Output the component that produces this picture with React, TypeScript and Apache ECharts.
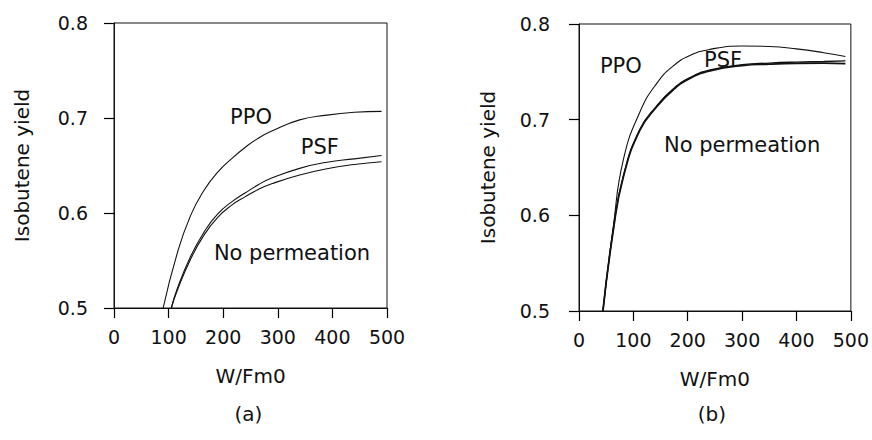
import React, { useEffect, useRef } from "react";
import * as echarts from "echarts";

// Panel (a)
const aPpoX = [90, 115, 140, 165, 190, 215, 240, 265, 290, 340, 390, 440, 490];
const aPpoY = [0.5, 0.556, 0.597, 0.624, 0.643, 0.657, 0.669, 0.679, 0.6865, 0.698, 0.703, 0.706, 0.707];
const aPsfX = [105, 115, 140, 165, 190, 215, 240, 265, 290, 340, 390, 440, 490];
const aPsfY = [0.5, 0.519, 0.554, 0.58, 0.599, 0.6115, 0.621, 0.63, 0.637, 0.647, 0.6535, 0.657, 0.6605];
const aNoX = [105, 115, 140, 165, 190, 215, 240, 265, 290, 340, 390, 440, 490];
const aNoY = [0.5, 0.517, 0.551, 0.577, 0.5955, 0.608, 0.617, 0.625, 0.631, 0.64, 0.6466, 0.651, 0.654];

// Panel (b)
const bX = [44, 63, 81.5, 112, 143, 173, 204, 241, 300, 350, 400, 450, 490];
const bPpoY = [0.5, 0.588, 0.658, 0.708, 0.738, 0.756, 0.767, 0.7735, 0.777, 0.7765, 0.774, 0.77, 0.766];
const bPsfY = [0.5, 0.585, 0.641, 0.69, 0.7145, 0.732, 0.744, 0.752, 0.7575, 0.7592, 0.7602, 0.7608, 0.7615];
const bNoY = [0.5, 0.584, 0.64, 0.689, 0.7135, 0.731, 0.743, 0.751, 0.7565, 0.758, 0.7588, 0.759, 0.7585];

const xTicks = [0, 100, 200, 300, 400, 500];
const yTicks = [0.5, 0.6, 0.7, 0.8];

// annotation labels: [text, x, y]
const aLabels: [string, number, number][] = [
  ["PPO", 251, 0.7015],
  ["PSF", 377, 0.669],
  ["No permeation", 326, 0.558],
];
const bLabels: [string, number, number][] = [
  ["PPO", 77, 0.756],
  ["PSF", 265, 0.762],
  ["No permeation", 300, 0.673],
];

const FONT = "DejaVu Sans";
const INK = "#111";

const zip = (xs: number[], ys: number[]) => xs.map((x, i) => [x, ys[i]]);

function makeAxes(gridIndex: number) {
  const xAxis = {
    type: "value",
    gridIndex,
    min: xTicks[0],
    max: xTicks[xTicks.length - 1],
    interval: 100,
    splitLine: { show: false },
    axisLine: { show: true, onZero: false, lineStyle: { color: INK, width: 1 } },
    axisTick: { show: true, inside: false, length: 10, lineStyle: { color: "#000", width: 1.2 } },
    axisLabel: { fontFamily: FONT, fontSize: 19, color: INK, margin: 19 },
    name: "W/Fm0",
    nameLocation: "middle",
    nameGap: 58,
    nameTextStyle: { fontFamily: FONT, fontSize: 20, color: INK },
  };
  const yAxis = {
    type: "value",
    gridIndex,
    min: yTicks[0],
    max: yTicks[yTicks.length - 1],
    interval: 0.1,
    splitLine: { show: false },
    axisLine: { show: true, onZero: false, lineStyle: { color: INK, width: 1 } },
    axisTick: { show: true, inside: false, length: 10, lineStyle: { color: "#000", width: 1.2 } },
    axisLabel: {
      fontFamily: FONT,
      fontSize: 19,
      color: INK,
      margin: gridIndex === 0 ? 26 : 29,
      formatter: (v: number) => v.toFixed(1),
    },
    name: "Isobutene yield",
    nameLocation: "middle",
    nameRotate: 90,
    nameGap: gridIndex === 0 ? 82 : 81,
    nameTextStyle: { fontFamily: FONT, fontSize: 20, color: INK },
  };
  return { xAxis, yAxis };
}

function line(name: string, data: number[][], idx: number, width: number) {
  return {
    type: "line",
    name,
    xAxisIndex: idx,
    yAxisIndex: idx,
    data,
    smooth: 0.5,
    showSymbol: false,
    symbol: "none",
    lineStyle: { color: INK, width },
    silent: true,
  };
}

export default function App() {
  const ref = useRef<HTMLDivElement>(null);
  useEffect(() => {
    if (!ref.current) return;
    const chart = echarts.init(ref.current, undefined, { renderer: "svg" });
    const a = makeAxes(0);
    const b = makeAxes(1);
    chart.setOption({
      animation: false,
      backgroundColor: "#fff",
      textStyle: { fontFamily: FONT },
      grid: [
        { left: 114, top: 23, width: 273, height: 285, show: true, borderColor: INK, borderWidth: 1 },
        { left: 579, top: 24, width: 272, height: 287, show: true, borderColor: INK, borderWidth: 1 },
      ],
      xAxis: [a.xAxis, b.xAxis],
      yAxis: [a.yAxis, b.yAxis],
      series: [
        line("PPO", zip(aPpoX, aPpoY), 0, 1.1),
        line("PSF", zip(aPsfX, aPsfY), 0, 1.1),
        line("No permeation", zip(aNoX, aNoY), 0, 1.1),
        line("PPO", zip(bX, bPpoY), 1, 1.1),
        line("PSF", zip(bX, bPsfY), 1, 1.3),
        line("No permeation", zip(bX, bNoY), 1, 1.8),
      ],
    });
    const texts: any[] = [];
    const addLabels = (labels: [string, number, number][], gi: number) => {
      labels.forEach(([t, x, y]) => {
        const p = chart.convertToPixel({ gridIndex: gi } as any, [x, y]) as number[];
        texts.push({
          type: "text",
          x: p[0],
          y: p[1],
          z: 10,
          style: {
            text: t,
            fontFamily: FONT,
            fontSize: 21,
            fill: INK,
            textAlign: "center",
            textVerticalAlign: "middle",
          },
        });
      });
    };
    addLabels(aLabels, 0);
    addLabels(bLabels, 1);
    const ca = chart.convertToPixel({ gridIndex: 0 } as any, [250, 0.5]) as number[];
    const cb = chart.convertToPixel({ gridIndex: 1 } as any, [250, 0.5]) as number[];
    texts.push({
      type: "text",
      x: ca[0] - 2,
      y: 414,
      style: { text: "(a)", fontFamily: FONT, fontSize: 20, fill: INK, textAlign: "center", textVerticalAlign: "middle" },
    });
    texts.push({
      type: "text",
      x: cb[0] - 3,
      y: 414,
      style: { text: "(b)", fontFamily: FONT, fontSize: 20, fill: INK, textAlign: "center", textVerticalAlign: "middle" },
    });
    chart.setOption({ graphic: texts });
    return () => chart.dispose();
  }, []);
  return (
    <div
      ref={ref}
      style={{ position: "fixed", left: 0, top: 0, width: 872, height: 440, background: "#fff" }}
    />
  );
}
